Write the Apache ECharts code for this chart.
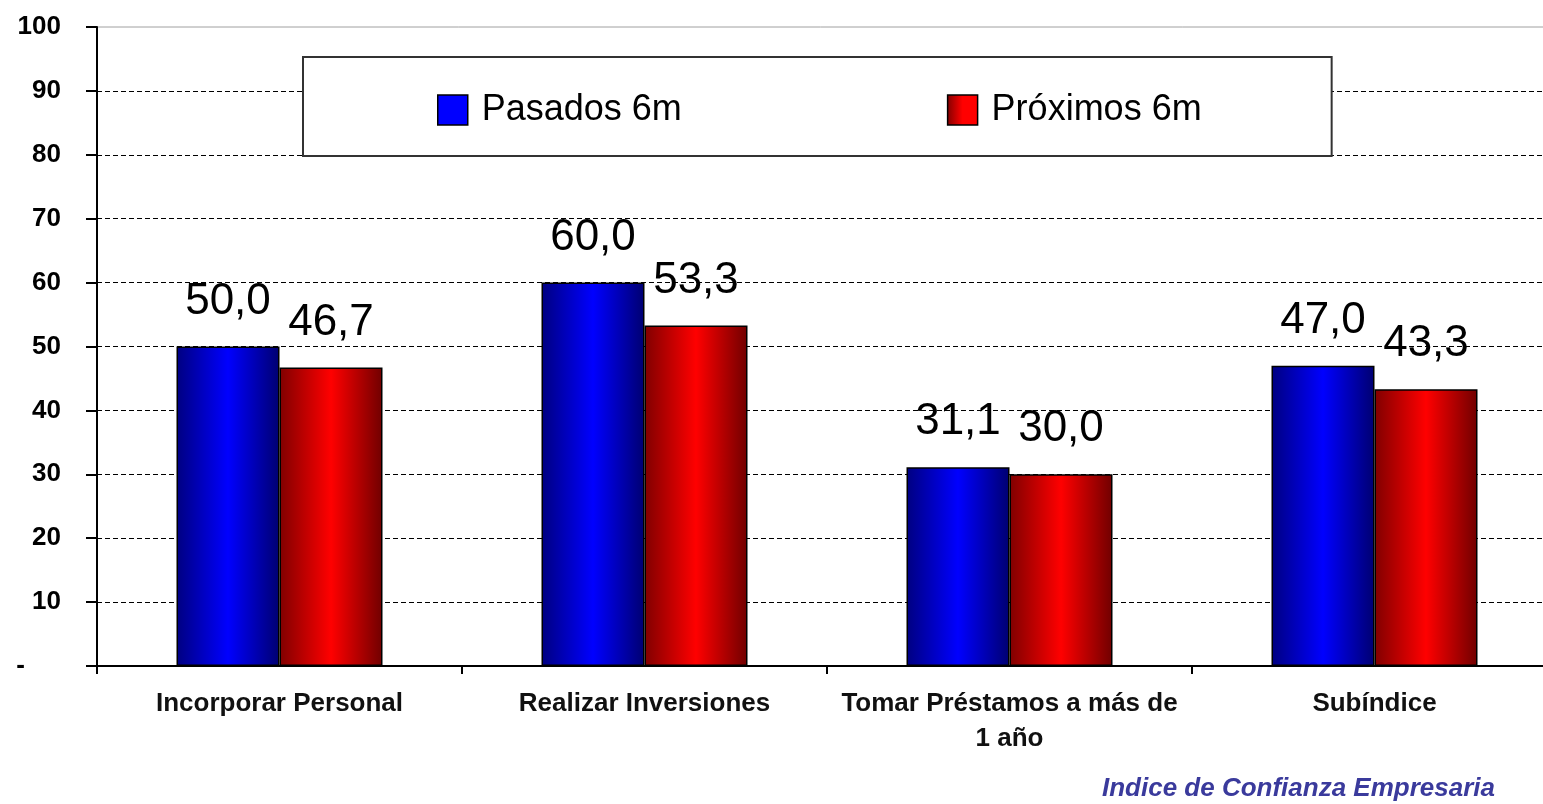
<!DOCTYPE html>
<html>
<head>
<meta charset="utf-8">
<script src="https://cdn.jsdelivr.net/npm/echarts@6/dist/echarts.min.js"></script>
<style>
  html, body { margin: 0; padding: 0; background: #fff; }
  #chart { width: 1543px; height: 804px; }
</style>
</head>
<body>
<div id="chart"></div>
<script>
var categories = ['Incorporar Personal', 'Realizar Inversiones', 'Tomar Préstamos a más de\n1 año', 'Subíndice'];
var pasados = [50.0, 60.0, 31.1, 47.0];
var proximos = [46.7, 53.3, 30.0, 43.3];
var seriesNames = ['Pasados 6m', 'Próximos 6m'];
var footer = 'Indice de Confianza Empresaria';

var FONT = "'Liberation Sans', Arial, sans-serif";

function grad(dark, bright, dark2) {
    return new echarts.graphic.LinearGradient(0, 0, 1, 0, [
        {offset: 0, color: dark},
        {offset: 0.5, color: bright},
        {offset: 1, color: dark2}
    ]);
}

function fmt(p) {
    return p.value.toFixed(1).replace('.', ',');
}

var labelStyle = {
    show: true,
    position: 'top',
    distance: 23,
    fontFamily: FONT,
    fontSize: 44,
    color: '#000',
    formatter: fmt
};

var chart = echarts.init(document.getElementById('chart'));

var option = {
    animation: false,
    backgroundColor: '#fff',
    title: {
        text: footer,
        left: 1102,
        top: 776,
        padding: 0,
        textStyle: {
            fontFamily: FONT,
            fontSize: 26,
            fontStyle: 'italic',
            fontWeight: 'bold',
            color: '#3a3a9c'
        }
    },
    legend: {
        left: 303,
        top: 57,
        padding: [35, 130, 28, 134],
        itemGap: 265,
        itemWidth: 30,
        itemHeight: 30,
        backgroundColor: '#fff',
        borderColor: '#333',
        borderWidth: 2,
        icon: 'rect',
        textStyle: {
            fontFamily: FONT,
            fontSize: 36,
            color: '#000',
            padding: [0, 0, 0, 9]
        },
        data: [
            {name: seriesNames[0], itemStyle: {color: '#0000ff', borderColor: '#000', borderWidth: 1.5}},
            {name: seriesNames[1], itemStyle: {color: grad('#800000', '#ff0000', '#ff0000'), borderColor: '#000', borderWidth: 1.5}}
        ]
    },
    grid: {
        left: 97,
        top: 27,
        width: 1460,
        height: 639,
        outerBoundsMode: 'none',
        containLabel: false,
        show: true,
        borderColor: '#a0a0a0',
        borderWidth: 1
    },
    xAxis: {
        type: 'category',
        data: categories,
        axisLine: {lineStyle: {color: '#000', width: 2}},
        axisTick: {show: true, length: 8, lineStyle: {color: '#000', width: 2}},
        axisLabel: {
            interval: 0,
            margin: 20,
            fontFamily: FONT,
            fontSize: 26,
            fontWeight: 'bold',
            lineHeight: 35,
            color: '#111'
        }
    },
    yAxis: {
        type: 'value',
        min: 0,
        max: 100,
        interval: 10,
        axisLine: {show: true, lineStyle: {color: '#000', width: 2}},
        axisTick: {show: true, length: 11, lineStyle: {color: '#000', width: 2}},
        axisLabel: {
            margin: 36,
            fontFamily: FONT,
            fontSize: 26,
            fontWeight: 'bold',
            color: '#000',
            formatter: function (v) { return v === 0 ? '-     ' : v; }
        },
        splitLine: {
            show: true,
            showMinLine: false,
            showMaxLine: false,
            lineStyle: {color: '#000', width: 1, type: [5, 3]}
        }
    },
    series: [
        {
            name: seriesNames[0],
            type: 'bar',
            data: pasados,
            barWidth: 103,
            barGap: '0%',
            itemStyle: {color: grad('#000080', '#0000ff', '#000070'), borderColor: '#000', borderWidth: 1.5},
            label: labelStyle
        },
        {
            name: seriesNames[1],
            type: 'bar',
            data: proximos,
            barWidth: 103,
            barGap: '0%',
            itemStyle: {color: grad('#800000', '#ff0000', '#700000'), borderColor: '#000', borderWidth: 1.5},
            label: labelStyle
        }
    ]
};

chart.setOption(option);
</script>
</body>
</html>
